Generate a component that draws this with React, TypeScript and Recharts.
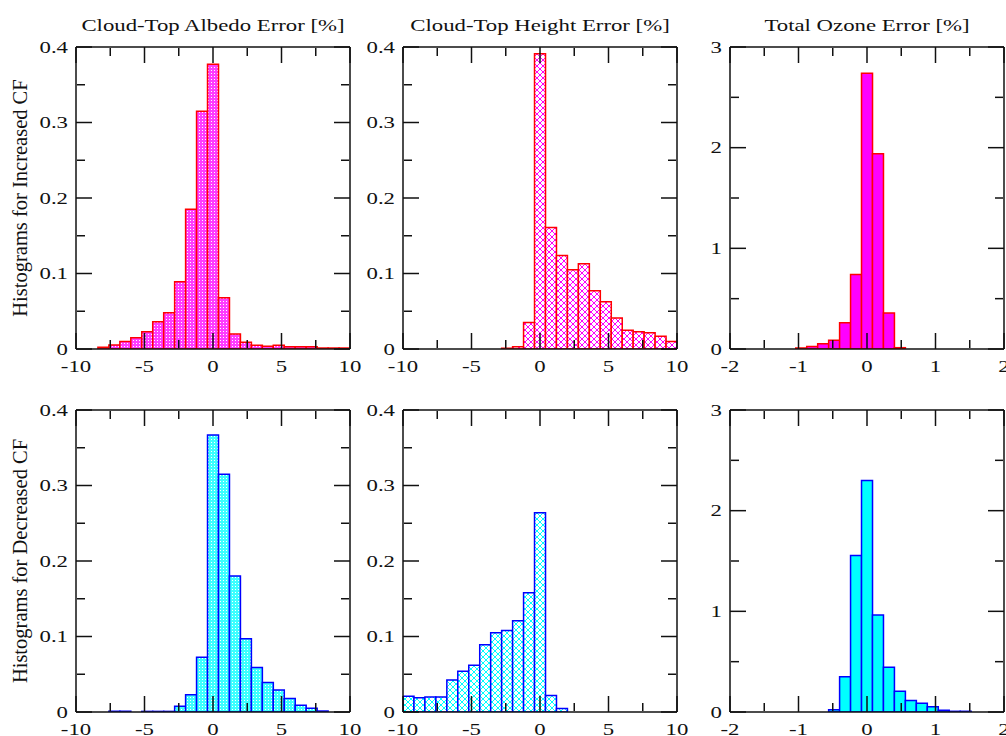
import React from "react";
import { BarChart, Bar, XAxis, YAxis } from "recharts";

// bin centres (x) and histogram heights (y)
const albedoBinsInc = [-8, -7.2, -6.4, -5.6, -4.8, -4, -3.2, -2.4, -1.6, -0.8, 0, 0.8, 1.6, 2.4, 3.2, 4, 4.8, 5.6, 6.4, 7.2, 8, 8.8, 9.6];
const albedoInc = [0.0022, 0.0053, 0.01, 0.015, 0.023, 0.036, 0.048, 0.089, 0.185, 0.315, 0.377, 0.068, 0.02, 0.009, 0.005, 0.0035, 0.005, 0.003, 0.003, 0.003, 0.0013, 0.0013, 0.0013];

const heightBinsInc = [-2.4, -1.6, -0.8, 0, 0.8, 1.6, 2.4, 3.2, 4, 4.8, 5.6, 6.4, 7.2, 8, 8.8, 9.6];
const heightInc = [0.001, 0.003, 0.035, 0.391, 0.161, 0.124, 0.105, 0.113, 0.077, 0.0625, 0.041, 0.025, 0.023, 0.0215, 0.017, 0.01];

const ozoneBinsInc = [-0.96, -0.8, -0.64, -0.48, -0.32, -0.16, 0, 0.16, 0.32, 0.48];
const ozoneInc = [0.01, 0.026, 0.053, 0.086, 0.26, 0.74, 2.74, 1.94, 0.357, 0.013];

const albedoBinsDec = [-7.2, -6.4, -4.8, -4, -3.2, -2.4, -1.6, -0.8, 0, 0.8, 1.6, 2.4, 3.2, 4, 4.8, 5.6, 6.4, 7.2, 8];
const albedoDec = [0.001, 0.001, 0.0008, 0.0008, 0.0008, 0.0075, 0.023, 0.0725, 0.367, 0.315, 0.18, 0.097, 0.059, 0.039, 0.029, 0.018, 0.009, 0.005, 0.0013];

const heightBinsDec = [-9.6, -8.8, -8, -7.2, -6.4, -5.6, -4.8, -4, -3.2, -2.4, -1.6, -0.8, 0, 0.8, 1.6];
const heightDec = [0.021, 0.019, 0.02, 0.02, 0.0425, 0.054, 0.062, 0.089, 0.105, 0.108, 0.121, 0.158, 0.264, 0.022, 0.0045];

const ozoneBinsDec = [-0.48, -0.32, -0.16, 0, 0.16, 0.32, 0.48, 0.64, 0.8, 0.96, 1.12, 1.28, 1.44];
const ozoneDec = [0.023, 0.35, 1.555, 2.3, 0.963, 0.445, 0.205, 0.115, 0.088, 0.052, 0.018, 0.007, 0.007];

// axis ticks
const errTicks = [-10, -5, 0, 5, 10];
const errMinor = [-7.5, -2.5, 2.5, 7.5];
const ozTicks = [-2, -1, 0, 1, 2];
const ozMinor = [-1.5, -0.5, 0.5, 1.5];
const densTicks = [0, 0.1, 0.2, 0.3, 0.4];
const densMinor = [0.05, 0.15, 0.25, 0.35];
const ozDensTicks = [0, 1, 2, 3];
const ozDensMinor = [0.5, 1.5, 2.5];

const titles = ["Cloud-Top Albedo Error [%]", "Cloud-Top Height Error [%]", "Total Ozone Error [%]"];
const rowLabels = ["Histograms for Increased CF", "Histograms for Decreased CF"];

const FONT = "'Liberation Serif', 'Times New Roman', serif";
const SX = 1.38; // the original figure is stretched sideways
const PLOT_W = 274;
const PLOT_H = 302;
const colLeft = [76, 403, 730];
const rowTop = [47, 410];

const frame = { stroke: "#111", strokeWidth: 1.5 };
const tickLine = { stroke: "#111", strokeWidth: 1.5 };

const XTick = ({ x, y, payload }: any) => (
  <g transform={`translate(${x},${y}) scale(${SX},1)`}>
    <text x={0} y={15} textAnchor="middle" fontFamily={FONT} fontSize={16.5} fill="#111">
      {payload.value}
    </text>
  </g>
);

const YTick = ({ x, y, payload }: any) => (
  <g transform={`translate(${x},${y}) scale(${SX},1)`}>
    <text x={0} y={0} dy="0.34em" textAnchor="end" fontFamily={FONT} fontSize={16.5} fill="#111">
      {payload.value}
    </text>
  </g>
);

// tick-mark-only axes: keep the line, draw no label
const NoTick = () => <g />;

function Patterns({ id, color }: { id: string; color: string }) {
  const base = color === "#ff00ff" ? "#ff3cff" : "#3cffff";
  return (
    <defs>
      <pattern id={`dots-${id}`} width={3} height={3} patternUnits="userSpaceOnUse">
        <rect width={3} height={3} fill={base} />
        <rect x={1} y={1} width={1} height={1} fill="#ffffff" />
      </pattern>
      <pattern id={`hatch-${id}`} width={6} height={6} patternUnits="userSpaceOnUse">
        <rect width={6} height={6} fill="#fff" />
        <path d="M0,0L6,6M6,0L0,6" stroke={color} strokeWidth={1} />
      </pattern>
    </defs>
  );
}

type PanelProps = {
  id: string;
  bins: number[];
  values: number[];
  col: number;
  row: number;
  ozone: boolean;
  fill: "dots" | "hatch" | "solid";
};

function Panel({ id, bins, values, col, row, ozone, fill }: PanelProps) {
  const data = bins.map((x, i) => ({ x, y: values[i] }));
  const color = row === 0 ? "#ff00ff" : "#00ffff";
  const edge = row === 0 ? "#ff0000" : "#0000ff";
  const xDomain = ozone ? [-2, 2] : [-10, 10];
  const xMajor = ozone ? ozTicks : errTicks;
  const xMinor = ozone ? ozMinor : errMinor;
  const yDomain = ozone ? [0, 3] : [0, 0.4];
  const yMajor = ozone ? ozDensTicks : densTicks;
  const yMinor = ozone ? ozDensMinor : densMinor;
  const barFill = fill === "solid" ? color : `url(#${fill}-${id})`;

  const xCommon = { dataKey: "x", type: "number" as const, domain: xDomain, allowDataOverflow: true, interval: 0 as const };
  const yCommon = { dataKey: "y", type: "number" as const, domain: yDomain, allowDataOverflow: true, interval: 0 as const };

  return (
    <div style={{ position: "absolute", left: colLeft[col] - 76, top: rowTop[row] - 47 }}>
      <BarChart
        width={380}
        height={389}
        data={data}
        margin={{ top: 47, right: 30, bottom: 0, left: 0 }}
        barCategoryGap={0}
        barGap={0}
      >
        <Patterns id={id} color={color} />
        <Bar
          dataKey="y"
          xAxisId="lab"
          yAxisId="lab"
          fill={barFill}
          stroke={edge}
          strokeWidth={1.5}
          isAnimationActive={false}
        />
        <XAxis xAxisId="lab" {...xCommon} ticks={xMajor} height={40} tickLine={false} axisLine={frame} tick={<XTick />} />
        <XAxis xAxisId="bMaj" {...xCommon} ticks={xMajor} mirror height={1} tickSize={16} tick={NoTick} axisLine={false} tickLine={tickLine} />
        <XAxis xAxisId="bMin" {...xCommon} ticks={xMinor} mirror height={1} tickSize={8} tick={NoTick} axisLine={false} tickLine={tickLine} />
        <XAxis xAxisId="tMaj" {...xCommon} ticks={xMajor} orientation="top" mirror height={1} tickSize={16} tick={NoTick} axisLine={frame} tickLine={tickLine} />
        <XAxis xAxisId="tMin" {...xCommon} ticks={xMinor} orientation="top" mirror height={1} tickSize={8} tick={NoTick} axisLine={false} tickLine={tickLine} />
        <YAxis yAxisId="lab" {...yCommon} ticks={yMajor} width={76} tickLine={false} axisLine={frame} tick={<YTick />} />
        <YAxis yAxisId="lMaj" {...yCommon} ticks={yMajor} mirror width={1} tickSize={16} tick={NoTick} axisLine={false} tickLine={tickLine} />
        <YAxis yAxisId="lMin" {...yCommon} ticks={yMinor} mirror width={1} tickSize={8} tick={NoTick} axisLine={false} tickLine={tickLine} />
        <YAxis yAxisId="rMaj" {...yCommon} ticks={yMajor} orientation="right" mirror width={1} tickSize={16} tick={NoTick} axisLine={frame} tickLine={tickLine} />
        <YAxis yAxisId="rMin" {...yCommon} ticks={yMinor} orientation="right" mirror width={1} tickSize={8} tick={NoTick} axisLine={false} tickLine={tickLine} />
      </BarChart>
    </div>
  );
}

export default function App() {
  return (
    <div
      style={{
        position: "absolute",
        left: 0,
        top: 0,
        width: 1006,
        height: 736,
        overflow: "hidden",
        background: "#fff",
      }}
    >
      <Panel id="a1" bins={albedoBinsInc} values={albedoInc} col={0} row={0} ozone={false} fill="dots" />
      <Panel id="h1" bins={heightBinsInc} values={heightInc} col={1} row={0} ozone={false} fill="hatch" />
      <Panel id="o1" bins={ozoneBinsInc} values={ozoneInc} col={2} row={0} ozone fill="solid" />
      <Panel id="a2" bins={albedoBinsDec} values={albedoDec} col={0} row={1} ozone={false} fill="dots" />
      <Panel id="h2" bins={heightBinsDec} values={heightDec} col={1} row={1} ozone={false} fill="hatch" />
      <Panel id="o2" bins={ozoneBinsDec} values={ozoneDec} col={2} row={1} ozone fill="solid" />

      <svg width={1006} height={736} style={{ position: "absolute", left: 0, top: 0, pointerEvents: "none" }}>
        {titles.map((t, i) => (
          <g key={t} transform={`translate(${colLeft[i] + PLOT_W / 2},31) scale(${SX},1)`}>
            <text textAnchor="middle" fontFamily={FONT} fontSize={16.5} fill="#111">
              {t}
            </text>
          </g>
        ))}
        {rowLabels.map((t, i) => (
          <text
            key={t}
            transform={`translate(27,${rowTop[i] + PLOT_H / 2}) rotate(-90)`}
            textAnchor="middle"
            fontFamily={FONT}
            fontSize={20.5}
            fill="#111"
          >
            {t}
          </text>
        ))}
      </svg>
    </div>
  );
}
